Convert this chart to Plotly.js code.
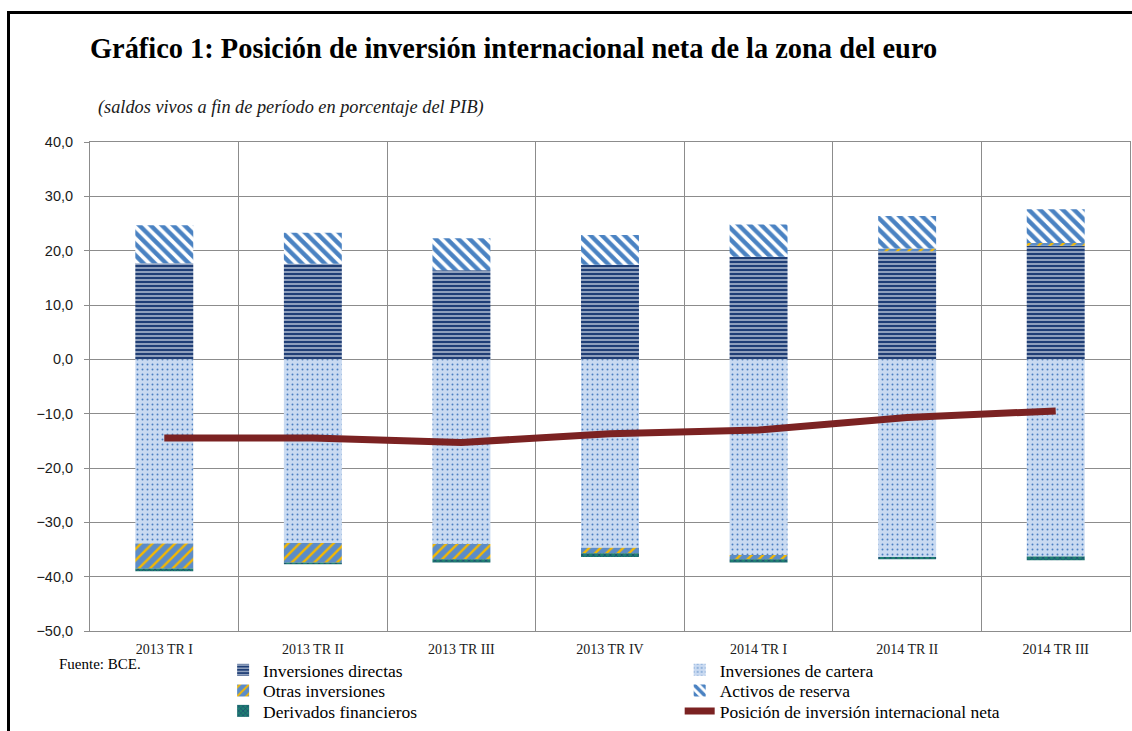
<!DOCTYPE html>
<html>
<head>
<meta charset="utf-8">
<script src="https://cdn.plot.ly/plotly-3.0.1.min.js"></script>
<style>
  html, body { margin: 0; padding: 0; background: #fff; }
  #wrap { position: relative; width: 1132px; height: 731px; overflow: hidden; }
  #chart { position: absolute; left: 0; top: 0; width: 1132px; height: 731px; }
  #frame { position: absolute; left: 7px; top: 11px; width: 1200px; height: 800px;
           border-left: 3px solid #000; border-top: 3px solid #000; pointer-events: none; }
</style>
</head>
<body>
<div id="wrap">
  <div id="chart"></div>
  <div id="frame"></div>
</div>
<script>
const categories = ["2013 TR I", "2013 TR II", "2013 TR III", "2013 TR IV", "2014 TR I", "2014 TR II", "2014 TR III"];
const inversionesDirectas = [17.7, 17.6, 16.4, 17.4, 18.9, 19.9, 20.9];
const inversionesCartera = [-33.9, -33.8, -34.0, -34.7, -36.0, -36.4, -36.3];
const otrasInversiones = [-4.6, -3.6, -2.8, -1.0, -0.8, 0.5, 0.5];
const activosReserva = [7.0, 5.7, 5.9, 5.5, 5.9, 6.0, 6.2];
const derivadosFinancieros = [-0.5, -0.3, -0.6, -0.7, -0.6, -0.4, -0.7];
const posicionNeta = [-14.5, -14.5, -15.3, -13.7, -13.0, -10.7, -9.5];

const serif = "Liberation Serif, Times New Roman, serif";
const sans = "Liberation Sans, Arial, sans-serif";

const traces = [
  { type: "bar", name: "Inversiones directas", legend: "legend", x: categories, y: inversionesDirectas,
    marker: { line: { width: 0 },
      pattern: { shape: "-", bgcolor: "#1F3E76", fgcolor: "#E6ECF5", size: 4, solidity: 0.28, fillmode: "replace" } } },
  { type: "bar", name: "Inversiones de cartera", legend: "legend4", x: categories, y: inversionesCartera,
    marker: { line: { width: 0 },
      pattern: { shape: ".", bgcolor: "#C9DAF1", fgcolor: "#4A7EC0", size: 5, solidity: 0.12, fillmode: "replace" } } },
  { type: "bar", name: "Otras inversiones", legend: "legend2", x: categories, y: otrasInversiones,
    marker: { line: { width: 0 },
      pattern: { shape: "/", bgcolor: "#5B8CC8", fgcolor: "#F5B800", size: 8, solidity: 0.3, fillmode: "replace" } } },
  { type: "bar", name: "Activos de reserva", legend: "legend5", x: categories, y: activosReserva,
    marker: { line: { width: 0 },
      pattern: { shape: "\\", bgcolor: "#FFFFFF", fgcolor: "#4A82C2", size: 8, solidity: 0.55, fillmode: "replace" } } },
  { type: "bar", name: "Derivados financieros", legend: "legend3", x: categories, y: derivadosFinancieros,
    marker: { line: { width: 0 },
      pattern: { shape: "x", bgcolor: "#1E7F70", fgcolor: "#1F3E76", size: 4, solidity: 0.3, fillmode: "replace" } } },
  { type: "scatter", mode: "lines", name: "Posición de inversión internacional neta", legend: "legend6",
    x: categories, y: posicionNeta,
    line: { color: "#7B2222", width: 7, shape: "linear" } }
];

const legendCommon = {
  orientation: "v", yanchor: "top", xanchor: "left", traceorder: "normal",
  font: { family: serif, size: 17.5, color: "#000" }, bgcolor: "rgba(0,0,0,0)", borderwidth: 0
};
const colLeft = 0.128, colRight = 0.567;
const rowTops = [-0.0429, -0.0849, -0.1268];

const layout = {
  width: 1132, height: 731,
  paper_bgcolor: "#FFFFFF", plot_bgcolor: "#FFFFFF",
  margin: { l: 90, r: 2, t: 142, b: 100, pad: 0, autoexpand: false },
  separators: ",.",
  barmode: "relative",
  bargap: 0.61,
  font: { family: serif, color: "#1a1a1a" },
  title: { text: "<b>Gráfico 1: Posición de inversión internacional neta de la zona del euro</b>",
    font: { family: serif, size: 28.4, color: "#000" },
    x: 0.0795, xanchor: "left", xref: "container", y: 0.934, yanchor: "middle", yref: "container" },
  xaxis: { type: "category", tickson: "boundaries", showgrid: true, gridcolor: "#8C8C8C", gridwidth: 1,
    showline: true, linecolor: "#8C8C8C", mirror: true, ticks: "", ticklen: 0, ticklabelstandoff: 5,
    tickfont: { family: serif, size: 14, color: "#1a1a1a" }, range: [-0.5, 6.5], fixedrange: true },
  yaxis: { range: [-50, 40], dtick: 10, tick0: 0, tickformat: ".1f", showgrid: true, gridcolor: "#8C8C8C", gridwidth: 1,
    showline: true, linecolor: "#8C8C8C", mirror: true, ticks: "outside", ticklen: 5, tickcolor: "#8C8C8C",
    zeroline: false, tickfont: { family: sans, size: 14.5, color: "#1a1a1a" }, ticklabelstandoff: 8 },
  showlegend: true,
  legend: Object.assign({}, legendCommon, { x: colLeft, y: rowTops[0] }),
  legend2: Object.assign({}, legendCommon, { x: colLeft, y: rowTops[1] }),
  legend3: Object.assign({}, legendCommon, { x: colLeft, y: rowTops[2] }),
  legend4: Object.assign({}, legendCommon, { x: colRight, y: rowTops[0] }),
  legend5: Object.assign({}, legendCommon, { x: colRight, y: rowTops[1] }),
  legend6: Object.assign({}, legendCommon, { x: colRight, y: rowTops[2] }),
  annotations: [
    { text: "<i>(saldos vivos a fin de período en porcentaje del PIB)</i>", xref: "paper", yref: "paper",
      x: 0.006, y: 1.071, xanchor: "left", yanchor: "middle", showarrow: false,
      font: { family: serif, size: 18.3, color: "#1a1a1a" } },
    { text: "Fuente: BCE.", xref: "paper", yref: "paper", x: -0.032, y: -0.067, xanchor: "left", yanchor: "middle",
      showarrow: false, font: { family: serif, size: 15, color: "#000" } }
  ]
};

Plotly.newPlot("chart", traces, layout, { staticPlot: true, displayModeBar: false });
</script>
</body>
</html>
